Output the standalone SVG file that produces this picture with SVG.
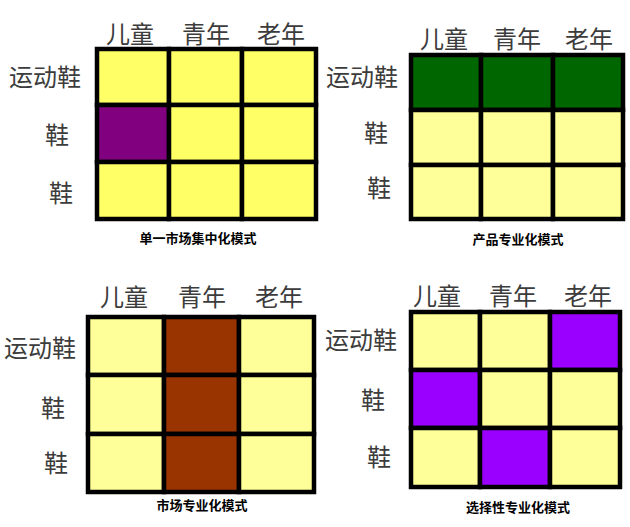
<svg xmlns="http://www.w3.org/2000/svg" width="630" height="527" viewBox="0 0 630 527">
<style>
.lbl{font-family:"Noto Sans CJK SC","Noto Sans",sans-serif;font-size:24px;fill:#3c3c3c;text-anchor:middle}
.cap{font-family:"Noto Sans CJK SC","Noto Sans",sans-serif;font-size:13px;font-weight:bold;fill:#000;text-anchor:middle}
.c{stroke:#000;stroke-width:4.5}
.y1{fill:#FFFF66}
.y2{fill:#FFFF99}
.pu{fill:#800080}
.gr{fill:#006600}
.br{fill:#993300}
.vi{fill:#9900FF}
</style>
<rect width="630" height="527" fill="#fff"/>
<g id="panel-single">
<rect class="c y1" x="97" y="49" width="72" height="56"/>
<rect class="c y1" x="169" y="49" width="73" height="56"/>
<rect class="c y1" x="242" y="49" width="74" height="56"/>
<rect class="c pu" x="97" y="105" width="72" height="57"/>
<rect class="c y1" x="169" y="105" width="73" height="57"/>
<rect class="c y1" x="242" y="105" width="74" height="57"/>
<rect class="c y1" x="97" y="162" width="72" height="57"/>
<rect class="c y1" x="169" y="162" width="73" height="57"/>
<rect class="c y1" x="242" y="162" width="74" height="57"/>
<text class="lbl" x="130" y="43">儿童</text>
<text class="lbl" x="206" y="43">青年</text>
<text class="lbl" x="281" y="43">老年</text>
<text class="lbl" x="45" y="86">运动鞋</text>
<text class="lbl" x="57" y="144">鞋</text>
<text class="lbl" x="61" y="202">鞋</text>
<text class="cap" x="198" y="243">单一市场集中化模式</text>
</g>
<g id="panel-product">
<rect class="c gr" x="411" y="55" width="70" height="55"/>
<rect class="c gr" x="481" y="55" width="72" height="55"/>
<rect class="c gr" x="553" y="55" width="70" height="55"/>
<rect class="c y2" x="411" y="110" width="70" height="55"/>
<rect class="c y2" x="481" y="110" width="72" height="55"/>
<rect class="c y2" x="553" y="110" width="70" height="55"/>
<rect class="c y2" x="411" y="165" width="70" height="54"/>
<rect class="c y2" x="481" y="165" width="72" height="54"/>
<rect class="c y2" x="553" y="165" width="70" height="54"/>
<text class="lbl" x="444" y="48">儿童</text>
<text class="lbl" x="517" y="48">青年</text>
<text class="lbl" x="589" y="48">老年</text>
<text class="lbl" x="362" y="86">运动鞋</text>
<text class="lbl" x="376" y="142">鞋</text>
<text class="lbl" x="379" y="197">鞋</text>
<text class="cap" x="518" y="244">产品专业化模式</text>
</g>
<g id="panel-market">
<rect class="c y2" x="88" y="317" width="76" height="58"/>
<rect class="c br" x="164" y="317" width="75" height="58"/>
<rect class="c y2" x="239" y="317" width="75" height="58"/>
<rect class="c y2" x="88" y="375" width="76" height="59"/>
<rect class="c br" x="164" y="375" width="75" height="59"/>
<rect class="c y2" x="239" y="375" width="75" height="59"/>
<rect class="c y2" x="88" y="434" width="76" height="58"/>
<rect class="c br" x="164" y="434" width="75" height="58"/>
<rect class="c y2" x="239" y="434" width="75" height="58"/>
<text class="lbl" x="124" y="306">儿童</text>
<text class="lbl" x="202" y="306">青年</text>
<text class="lbl" x="279" y="306">老年</text>
<text class="lbl" x="40" y="357">运动鞋</text>
<text class="lbl" x="53" y="417">鞋</text>
<text class="lbl" x="56" y="472">鞋</text>
<text class="cap" x="202" y="510">市场专业化模式</text>
</g>
<g id="panel-selective">
<rect class="c y2" x="411" y="312" width="69" height="58"/>
<rect class="c y2" x="480" y="312" width="70" height="58"/>
<rect class="c vi" x="550" y="312" width="70" height="58"/>
<rect class="c vi" x="411" y="370" width="69" height="58"/>
<rect class="c y2" x="480" y="370" width="70" height="58"/>
<rect class="c y2" x="550" y="370" width="70" height="58"/>
<rect class="c y2" x="411" y="428" width="69" height="59"/>
<rect class="c vi" x="480" y="428" width="70" height="59"/>
<rect class="c y2" x="550" y="428" width="70" height="59"/>
<text class="lbl" x="437" y="305">儿童</text>
<text class="lbl" x="513" y="305">青年</text>
<text class="lbl" x="588" y="305">老年</text>
<text class="lbl" x="361" y="349">运动鞋</text>
<text class="lbl" x="373" y="409">鞋</text>
<text class="lbl" x="379" y="466">鞋</text>
<text class="cap" x="518" y="512">选择性专业化模式</text>
</g>
</svg>
